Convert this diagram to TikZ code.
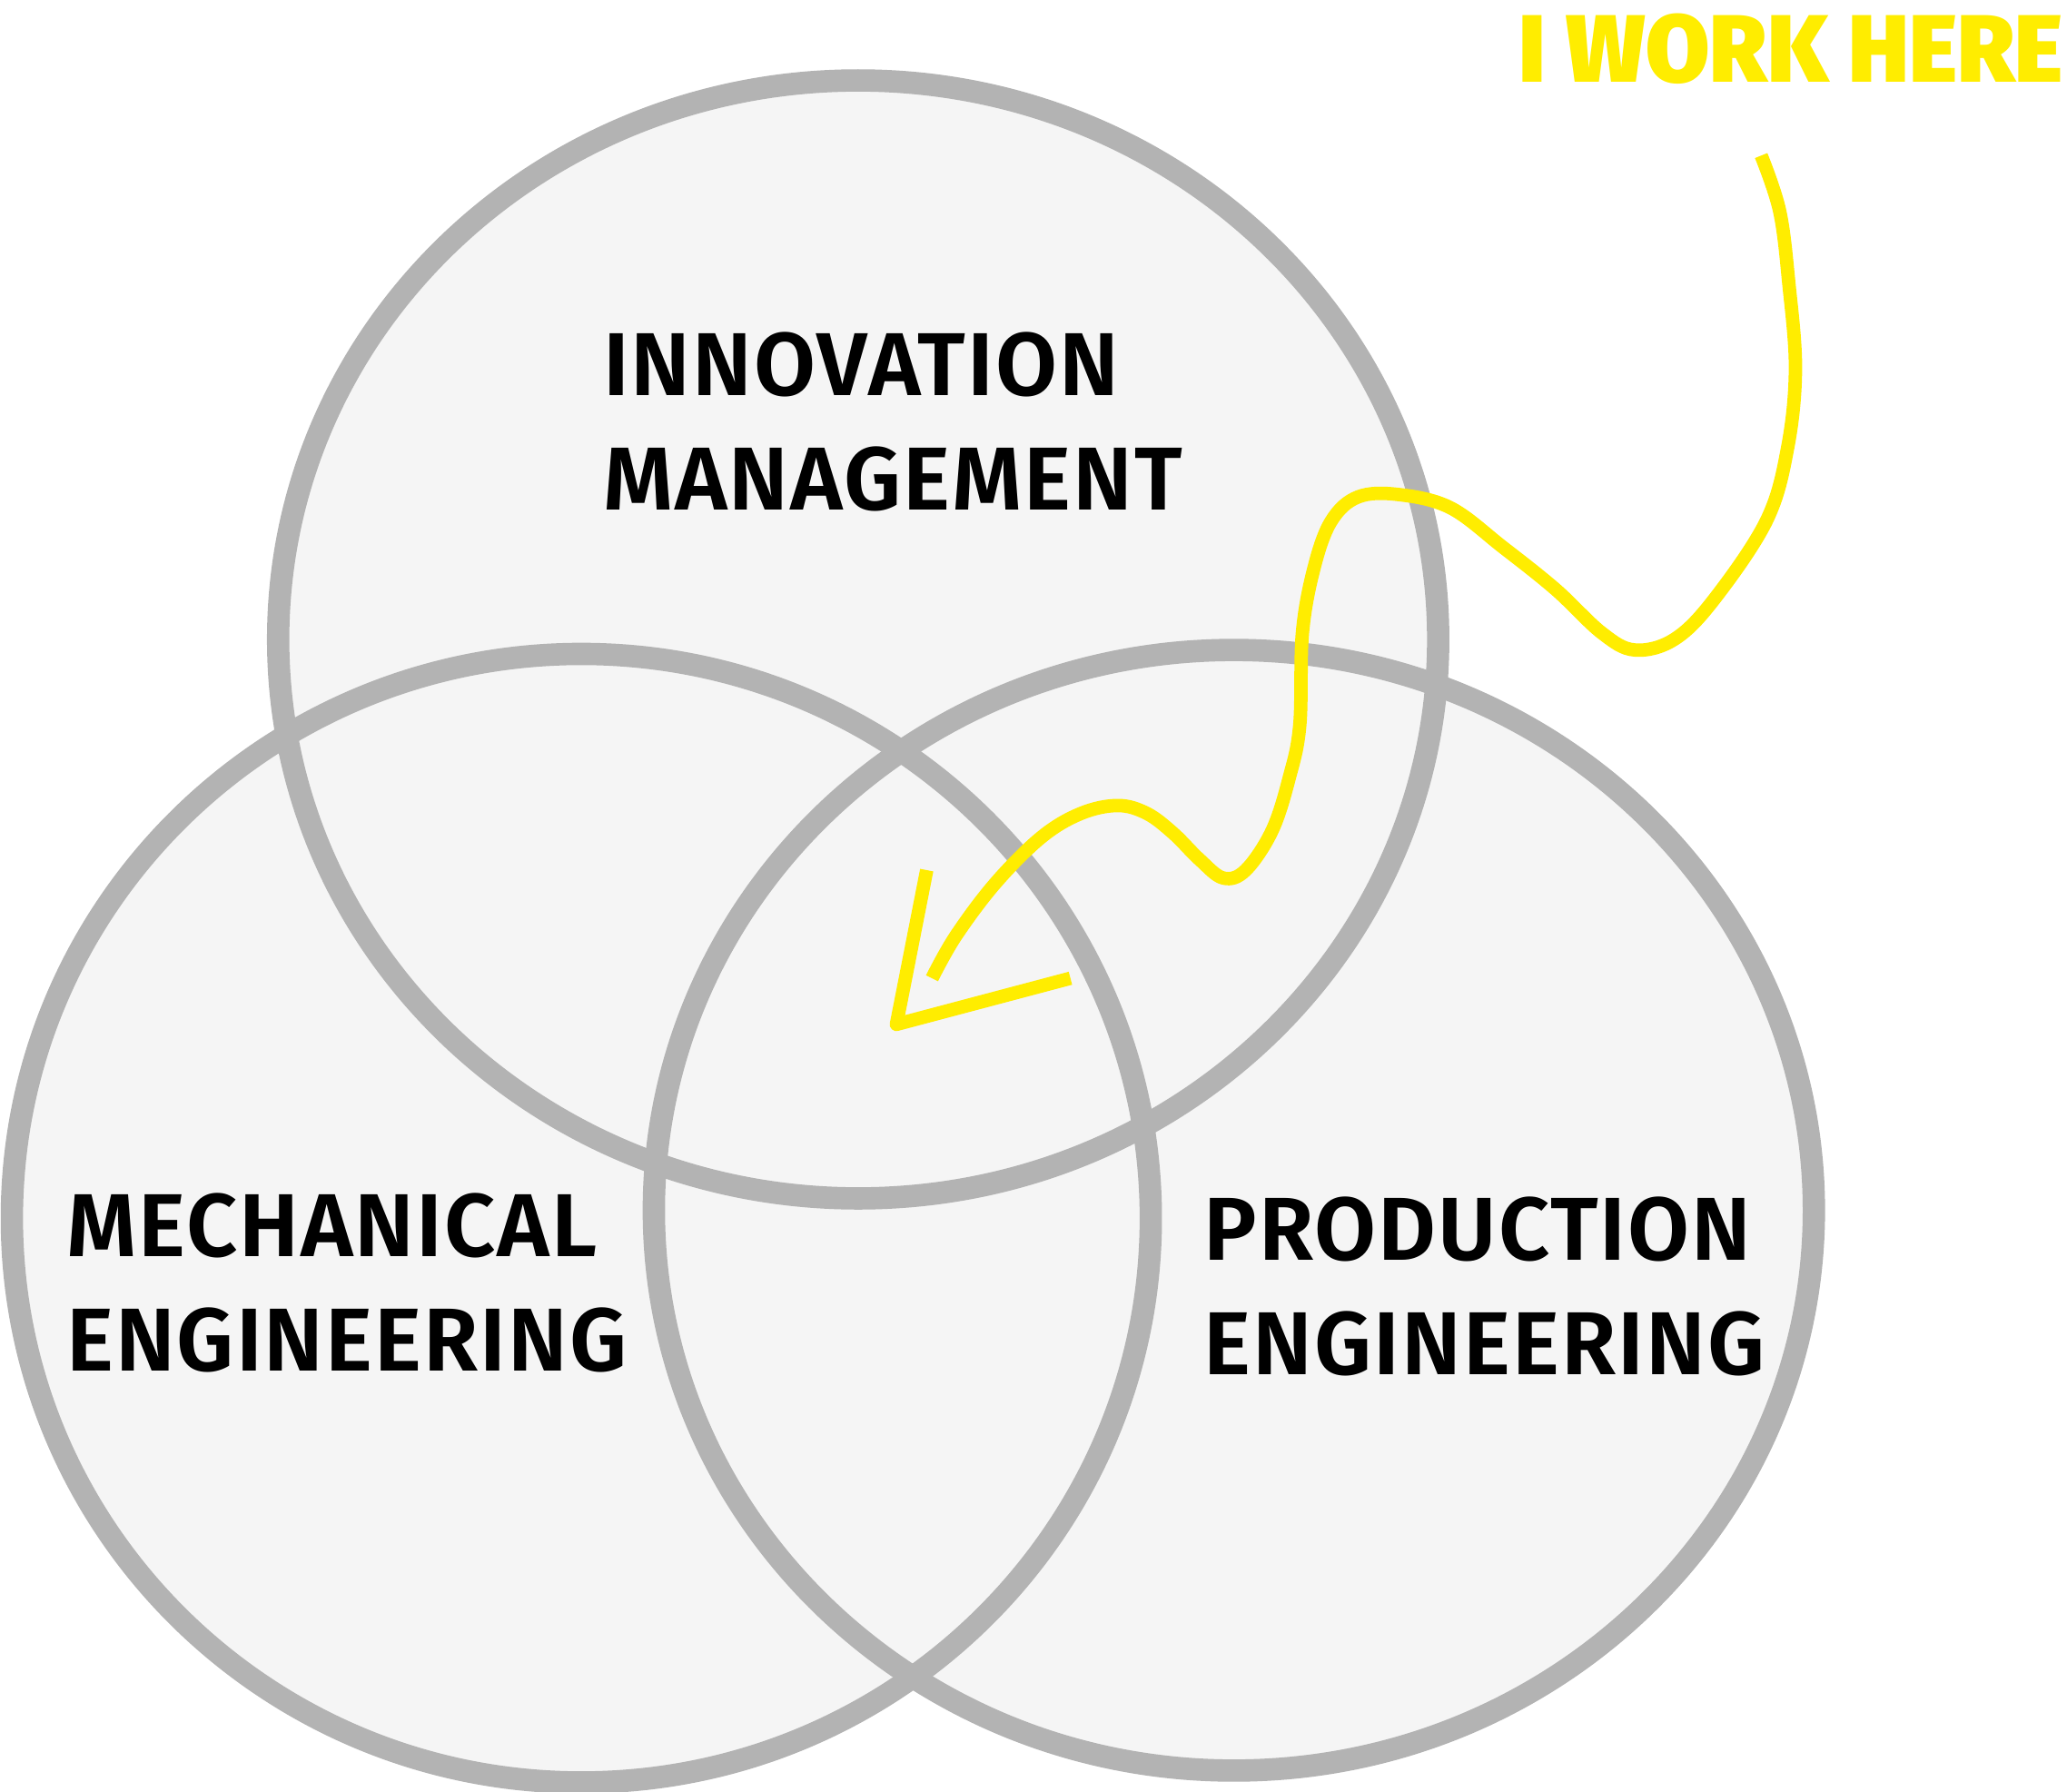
\documentclass[tikz,border=0pt]{standalone}
\usepackage{fontspec}
\setmainfont{Fira Sans}[BoldFont={Fira Sans SemiBold}]
\newfontfamily\labelfont{Fira Sans SemiBold}[LetterSpace=2]
\newfontfamily\shoutfont{Fira Sans Black}
\usetikzlibrary{positioning}
\definecolor{venngray}{HTML}{B3B3B3}
\definecolor{vennfill}{HTML}{F5F5F5}
\definecolor{markyellow}{HTML}{FFED00}

\begin{document}
\begin{tikzpicture}[x=0.014515cm, y=-0.014515cm,
  ring/.style={draw=venngray, line width=7pt},
  area/.style={label font, anchor=base west, inner sep=0pt, align=left},
  label font/.style={font=\labelfont\fontsize{28}{36}\selectfont},
  scribble/.style={draw=markyellow, line width=4.2pt, line cap=butt, line join=round}]
  \useasboundingbox (0,0) rectangle (1568,1359);
  % Fills of the three sets
  \fill[vennfill] (651,485) ellipse [x radius=440, y radius=424];
  \fill[vennfill] (441,924) ellipse [x radius=432, y radius=428];
  \fill[vennfill] (936,918) ellipse [x radius=440, y radius=425];
  % Outlines on top
  \draw[ring] (651,485) ellipse [x radius=440, y radius=424];
  \draw[ring] (441,924) ellipse [x radius=432, y radius=428];
  \draw[ring] (936,918) ellipse [x radius=440, y radius=425];
  % Set names (anchor is the baseline of the last line)
  \node[area] (innov) at (457,387) {INNOVATION\\MANAGEMENT};
  \node[area] (mech) at (50,1040) {MECHANICAL\\ENGINEERING};
  \node[area] (prod) at (913,1043) {PRODUCTION\\ENGINEERING};
  % Where I work
  \node[anchor=base west, inner sep=0pt, text=markyellow,
        font=\shoutfont\fontsize{30}{36}\selectfont] (here) at (1152,62)
        {\scalebox{0.965}[1]{I WORK HERE}};
  \coordinate (start) at (1336,118);
  \coordinate (tip) at (680,777);
  \draw[scribble] plot[smooth, tension=0.6] coordinates {
    (start) (1350,160) (1357,215) (1362,280) (1356,340) (1340,395)
    (1300,455) (1270,485) (1240,493) (1215,480) (1180,447) (1140,415)
    (1100,385) (1060,375) (1030,377) (1010,395) (997,430) (988,480)
    (986,550) (978,590) (965,630) (945,660) (928,666) (910,652)
    (890,632) (870,617) (848,611) (820,617) (790,635) (755,670)
    (725,710) (707,742)};
  \draw[scribble] (703,660) -- (tip) -- (812,742);
\end{tikzpicture}
\end{document}
